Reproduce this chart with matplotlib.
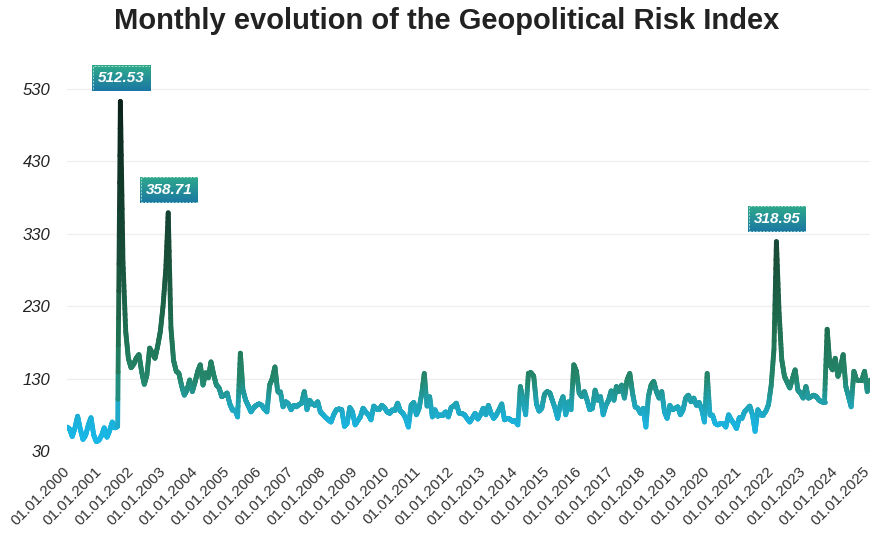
import matplotlib
matplotlib.use("Agg")
import matplotlib.pyplot as plt
import matplotlib.dates as mdates
import numpy as np
import pandas as pd
from matplotlib.collections import LineCollection
from matplotlib.colors import LinearSegmentedColormap, Normalize
from matplotlib.patches import Rectangle

plt.rcParams["font.family"] = ["Liberation Sans", "DejaVu Sans"]

# Monthly Geopolitical Risk Index, Jan 2000 onwards (one row per year)
gpr_values = [
    63, 60, 50, 62, 78, 60, 46, 52, 66, 76, 52, 43,                 # 2000
    45, 52, 62, 49, 58, 70, 62, 64, 512.53, 290, 195, 158,          # 2001
    145, 150, 158, 163, 140, 122, 135, 172, 165, 158, 175, 195,     # 2002
    230, 280, 358.71, 200, 155, 140, 137, 120, 107, 114, 128, 112,  # 2003
    125, 140, 149, 121, 138, 131, 153, 135, 121, 117, 105, 107,     # 2004
    110, 95, 87, 87, 77, 165, 114, 100, 92, 84, 90, 93,             # 2005
    95, 93, 88, 84, 121, 130, 146, 112, 112, 91, 98, 95,            # 2006
    87, 93, 91, 94, 96, 112, 87, 100, 95, 93, 98, 84,               # 2007
    80, 76, 73, 70, 80, 87, 88, 87, 64, 68, 90, 84,                 # 2008
    66, 72, 77, 89, 84, 80, 73, 92, 88, 87, 93, 90,                 # 2009
    84, 82, 87, 87, 96, 85, 82, 75, 63, 93, 97, 80,                 # 2010
    89, 110, 137, 92, 105, 77, 87, 78, 80, 80, 84, 77,              # 2011
    90, 92, 96, 82, 82, 80, 75, 70, 76, 82, 74, 80,                 # 2012
    89, 80, 93, 82, 75, 80, 87, 95, 73, 75, 74, 71,                 # 2013
    72, 66, 119, 100, 80, 137, 138, 133, 95, 85, 89, 108,           # 2014
    112, 110, 100, 89, 75, 95, 105, 80, 98, 87, 149, 140,           # 2015
    110, 105, 112, 100, 87, 89, 114, 100, 105, 80, 93, 100,         # 2016
    113, 100, 119, 112, 121, 103, 128, 137, 110, 91, 89, 82,        # 2017
    89, 63, 105, 121, 126, 112, 103, 112, 84, 75, 93, 87,           # 2018
    89, 91, 80, 87, 103, 107, 98, 103, 93, 97, 87, 70,              # 2019
    137, 80, 80, 68, 66, 68, 68, 63, 80, 73, 68, 61,                # 2020
    76, 75, 84, 88, 92, 80, 57, 87, 80, 80, 85, 94,                 # 2021
    121, 170, 318.95, 220, 156, 133, 125, 117, 130, 142, 114, 110,  # 2022
    103, 119, 103, 105, 107, 105, 100, 98, 98, 198, 149, 142,       # 2023
    158, 133, 145, 163, 119, 105, 91, 140, 128, 128, 128, 140,      # 2024
    112, 128,                                                       # 2025
]
start_month = "2000-01-01"
y_ticks = [30, 130, 230, 330, 430, 530]
tick_years = list(range(2000, 2026))
labelled_peaks = [512.53, 358.71, 318.95]
title = "Monthly evolution of the Geopolitical Risk Index"

dates = pd.date_range(start_month, periods=len(gpr_values), freq="MS")
x = mdates.date2num(dates)
y = np.asarray(gpr_values, dtype=float)

W, H = 871, 535
fig = plt.figure(figsize=(W / 100, H / 100), dpi=100)
ax = fig.add_axes([67 / W, 1 - 451 / H, (870 - 67) / W, (451 - 67) / H])

# Vertical colour ramp: light blue at the bottom, dark green at the top
line_cmap = LinearSegmentedColormap.from_list(
    "gpr",
    [(0.00, "#16bbf0"), (0.08, "#1bb2dc"), (0.14, "#21a0ad"),
     (0.20, "#24876c"), (0.31, "#207455"), (0.55, "#184e39"),
     (1.00, "#0a2018")],
)
norm = Normalize(30, 520)

# Split each segment into short pieces so the colour follows the height
sub = 12
xs = [x[0]]
ys = [y[0]]
for k in range(len(x) - 1):
    t = np.linspace(0, 1, sub + 1)[1:]
    xs.extend(x[k] + (x[k + 1] - x[k]) * t)
    ys.extend(y[k] + (y[k + 1] - y[k]) * t)
xs = np.asarray(xs)
ys = np.asarray(ys)
pts = np.column_stack([xs, ys]).reshape(-1, 1, 2)
segs = np.concatenate([pts[:-1], pts[1:]], axis=1)
lc = LineCollection(segs, cmap=line_cmap, norm=norm, linewidths=3.5,
                    capstyle="round", joinstyle="round", zorder=3)
lc.set_array((ys[:-1] + ys[1:]) / 2)
ax.add_collection(lc)

ax.set_xlim(x[0], x[-1])
ax.set_ylim(30, 560)

ax.set_yticks(y_ticks)
ax.set_yticklabels([str(v) for v in y_ticks], fontstyle="italic",
                   fontsize=12, color="#222222")
ax.tick_params(axis="y", length=0, pad=12)

tick_pos = [mdates.date2num(pd.Timestamp(f"{yr}-01-01")) for yr in tick_years]
ax.set_xticks(tick_pos)
ax.set_xticklabels([f"01.01.{yr}" for yr in tick_years], rotation=45,
                   ha="right", va="center", rotation_mode="anchor",
                   fontsize=11, color="#333333")
ax.tick_params(axis="x", length=0, pad=13)

ax.grid(axis="y", color="#eeeeee", linewidth=0.9, zorder=0)
ax.grid(axis="x", visible=False)
for s in ax.spines.values():
    s.set_visible(False)

fig.text(447 / W, 1 - 21 / H, title, ha="center", va="center",
         fontsize=21, fontweight="bold", color="#222222")

# Value tags above the three largest peaks
box_cmap = LinearSegmentedColormap.from_list("tag", ["#1b77a4", "#2fab8a"])
grad = np.linspace(0, 1, 64).reshape(-1, 1)
bw, bh = 58, 26
for v in labelled_peaks:
    i = gpr_values.index(v)
    px, py = ax.transData.transform((x[i], v))
    cy = py + 23
    bax = fig.add_axes([(px + 1 - bw / 2) / W, (cy - bh / 2) / H, bw / W, bh / H])
    bax.imshow(grad, extent=[0, 1, 0, 1], aspect="auto", cmap=box_cmap,
               origin="lower")
    bax.set_xlim(0, 1)
    bax.set_ylim(0, 1)
    bax.set_axis_off()
    bax.add_patch(Rectangle((0.01, 0.02), 0.98, 0.96, transform=bax.transAxes,
                            fill=False, ec="#9fd8cc", lw=0.7,
                            ls=(0, (2, 1.5))))
    bax.text(0.5, 0.5, f"{v:.2f}", transform=bax.transAxes, color="white",
             fontweight="bold", fontstyle="italic", fontsize=11,
             ha="center", va="center")

fig.savefig("out.png", dpi=100)
